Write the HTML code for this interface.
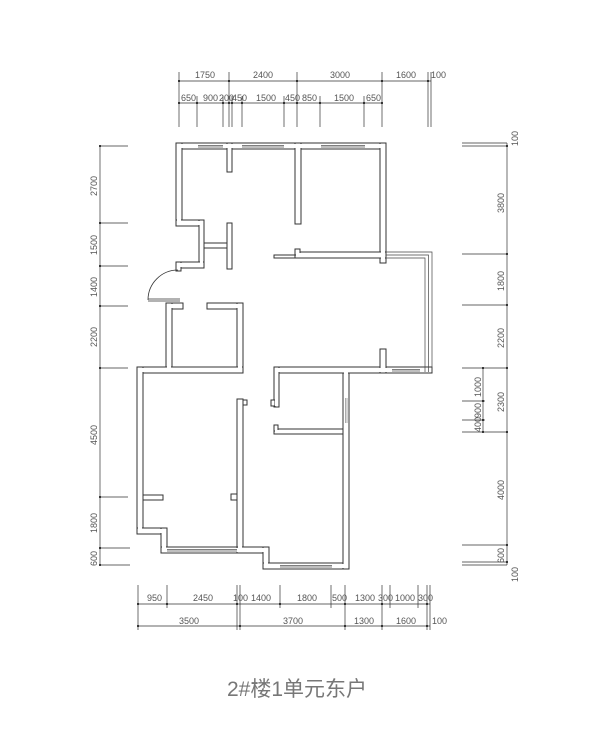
<!DOCTYPE html>
<html><head><meta charset="utf-8"><style>
body{margin:0;background:#fff;width:600px;height:750px;overflow:hidden}
svg{display:block}
text{font-family:"Liberation Sans",sans-serif;font-size:9px;fill:#555}
</style></head><body>
<svg width="600" height="750" viewBox="0 0 600 750">
<g id="walls">
<g fill="#fff" stroke="#333" stroke-width="1">
<rect x="176" y="143" width="210" height="6"/>
<rect x="176" y="143" width="6" height="83"/>
<rect x="176" y="220" width="28" height="6"/>
<rect x="199" y="220" width="5" height="48"/>
<rect x="176" y="262" width="28" height="6"/>
<rect x="176" y="262" width="5" height="9"/>
<rect x="227" y="143" width="5" height="29"/>
<rect x="227" y="223" width="5" height="46"/>
<rect x="204" y="243" width="23" height="5"/>
<rect x="295" y="143" width="6" height="81"/>
<rect x="380" y="143" width="6" height="120"/>
<rect x="295" y="252" width="91" height="6"/>
<rect x="274" y="255" width="21" height="3"/>
<rect x="295" y="249" width="5" height="6"/>
<rect x="166" y="303" width="17" height="6"/>
<rect x="166" y="303" width="6" height="70"/>
<rect x="207" y="303" width="36" height="6"/>
<rect x="237" y="303" width="6" height="70"/>
<rect x="137" y="367" width="106" height="6"/>
<rect x="137" y="367" width="6" height="167"/>
<rect x="137" y="528" width="30" height="6"/>
<rect x="161" y="528" width="6" height="25"/>
<rect x="161" y="547" width="82" height="6"/>
<rect x="143" y="495" width="20" height="5"/>
<rect x="237" y="399" width="6" height="154"/>
<rect x="243" y="400" width="4" height="5"/>
<rect x="231" y="494" width="6" height="6"/>
<rect x="237" y="547" width="32" height="6"/>
<rect x="263" y="547" width="6" height="22"/>
<rect x="263" y="563" width="86" height="6"/>
<rect x="343" y="367" width="6" height="202"/>
<rect x="274" y="367" width="158" height="6"/>
<rect x="274" y="367" width="5" height="40"/>
<rect x="271" y="400" width="4" height="6"/>
<rect x="274" y="429" width="69" height="5"/>
<rect x="274" y="425" width="4" height="6"/>
<rect x="380" y="349" width="6" height="24"/>
</g>
<g fill="#fff">
<rect x="177" y="144" width="208" height="4"/>
<rect x="177" y="144" width="4" height="81"/>
<rect x="177" y="221" width="26" height="4"/>
<rect x="200" y="221" width="3" height="46"/>
<rect x="177" y="263" width="26" height="4"/>
<rect x="228" y="144" width="3" height="27"/>
<rect x="228" y="224" width="3" height="44"/>
<rect x="296" y="144" width="4" height="79"/>
<rect x="381" y="144" width="4" height="118"/>
<rect x="296" y="253" width="89" height="4"/>
<rect x="167" y="304" width="15" height="4"/>
<rect x="167" y="304" width="4" height="68"/>
<rect x="208" y="304" width="34" height="4"/>
<rect x="238" y="304" width="4" height="68"/>
<rect x="138" y="368" width="104" height="4"/>
<rect x="138" y="368" width="4" height="165"/>
<rect x="138" y="529" width="28" height="4"/>
<rect x="162" y="529" width="4" height="23"/>
<rect x="162" y="548" width="80" height="4"/>
<rect x="238" y="400" width="4" height="152"/>
<rect x="238" y="548" width="30" height="4"/>
<rect x="264" y="548" width="4" height="20"/>
<rect x="264" y="564" width="84" height="4"/>
<rect x="344" y="368" width="4" height="200"/>
<rect x="275" y="368" width="156" height="4"/>
<rect x="275" y="368" width="3" height="38"/>
<rect x="275" y="430" width="67" height="3"/>
<rect x="381" y="350" width="4" height="22"/>
</g>
</g>
<g stroke="#555" stroke-width="0.7" fill="none">
<path d="M198 145.5H223M198 147H223M242 145.5H284M242 147H284M321 145.5H365M321 147H365"/>
<path d="M167 549.5H237M167 551H237M280 565.5H332M280 567H332M392 369.5H420M392 371H420"/>
<path d="M345.5 398V423M347 398V423" stroke="#888"/>
<path d="M386 252H432V372M386 255H428.5V372M386 258H425V372" stroke="#444"/>
</g>
<g stroke="#333" fill="none" stroke-width="0.8">
<path d="M178 270A30 30 0 0 0 148 300"/>
<path d="M148 299H180M148 301H180"/>
</g>
<g stroke="#333" stroke-width="0.7" fill="none">
<path d="M179 81H431M179 103H382"/>
<path d="M179 72V127M229 72V127M297 72V127M382 72V127M428 72V127M431 72V127"/>
<path d="M197 96V127M223 96V127M232 96V127M242 96V127M284 96V127M320 96V127M364 96V127"/>
<path d="M138 604H430M138 626H430"/>
<path d="M138 585V630M167 585V608M237 585V630M240 585V630M280 585V608M331 585V608M345 585V630M382 585V630M390 585V608M418 585V608M427 585V630M430 585V630"/>
<path d="M100 146V565"/>
<path d="M100 146H128M100 223H128M100 266H128M100 306H128M100 368H128M100 497H128M100 548H130M100 565H130"/>
<path d="M507 143V565"/>
<path d="M462 143H507M462 146H507M462 254H507M462 305H507M462 368H507M462 432H507M462 545H507M462 562H507M462 565H507"/>
<path d="M483 368V432M462 401H485M462 420H485"/>
</g>
<g fill="#000">
<circle cx="179" cy="81" r="1"/><circle cx="229" cy="81" r="1"/><circle cx="297" cy="81" r="1"/><circle cx="382" cy="81" r="1"/><circle cx="428" cy="81" r="1"/>
<circle cx="179" cy="103" r="1"/><circle cx="197" cy="103" r="1"/><circle cx="223" cy="103" r="1"/><circle cx="229" cy="103" r="1"/><circle cx="232" cy="103" r="1"/><circle cx="242" cy="103" r="1"/><circle cx="284" cy="103" r="1"/><circle cx="297" cy="103" r="1"/><circle cx="320" cy="103" r="1"/><circle cx="364" cy="103" r="1"/><circle cx="382" cy="103" r="1"/>
<circle cx="138" cy="604" r="1"/><circle cx="167" cy="604" r="1"/><circle cx="237" cy="604" r="1"/><circle cx="280" cy="604" r="1"/><circle cx="345" cy="604" r="1"/><circle cx="382" cy="604" r="1"/><circle cx="427" cy="604" r="1"/>
<circle cx="138" cy="626" r="1"/><circle cx="240" cy="626" r="1"/><circle cx="345" cy="626" r="1"/><circle cx="382" cy="626" r="1"/><circle cx="427" cy="626" r="1"/>
<circle cx="100" cy="146" r="1"/><circle cx="100" cy="223" r="1"/><circle cx="100" cy="266" r="1"/><circle cx="100" cy="306" r="1"/><circle cx="100" cy="368" r="1"/><circle cx="100" cy="497" r="1"/><circle cx="100" cy="548" r="1"/><circle cx="100" cy="565" r="1"/>
<circle cx="507" cy="146" r="1"/><circle cx="507" cy="254" r="1"/><circle cx="507" cy="305" r="1"/><circle cx="507" cy="368" r="1"/><circle cx="507" cy="432" r="1"/><circle cx="507" cy="545" r="1"/><circle cx="507" cy="562" r="1"/>
<circle cx="483" cy="368" r="1"/><circle cx="483" cy="401" r="1"/><circle cx="483" cy="420" r="1"/><circle cx="483" cy="432" r="1"/>
</g>
<g>
<text x="195" y="78">1750</text><text x="253" y="78">2400</text><text x="330" y="78">3000</text><text x="396" y="78">1600</text><text x="431" y="78">100</text>
<text x="181" y="101">650</text><text x="203" y="101">900</text><text x="219" y="101">200</text><text x="232" y="101">450</text><text x="256" y="101">1500</text><text x="285" y="101">450</text><text x="302" y="101">850</text><text x="334" y="101">1500</text><text x="366" y="101">650</text>
<text x="147" y="601">950</text><text x="193" y="601">2450</text><text x="233" y="601">100</text><text x="251" y="601">1400</text><text x="297" y="601">1800</text><text x="332" y="601">500</text><text x="355" y="601">1300</text><text x="378" y="601">300</text><text x="395" y="601">1000</text><text x="418" y="601">300</text>
<text x="179" y="624">3500</text><text x="283" y="624">3700</text><text x="354" y="624">1300</text><text x="396" y="624">1600</text><text x="432" y="624">100</text>
<g transform="rotate(-90)">
<text x="-196" y="97">2700</text><text x="-255" y="97">1500</text><text x="-297" y="97">1400</text><text x="-347" y="97">2200</text><text x="-445" y="97">4500</text><text x="-533" y="97">1800</text><text x="-566" y="97">600</text>
<text x="-213" y="504">3800</text><text x="-291" y="504">1800</text><text x="-348" y="504">2200</text><text x="-412" y="504">2300</text><text x="-500" y="504">4000</text><text x="-563" y="504">600</text>
<text x="-146" y="518">100</text><text x="-582" y="518">100</text>
<text x="-397" y="481">1000</text><text x="-418" y="481">900</text><text x="-432" y="481">400</text>
</g>
<text x="227" y="696" style="font-size:21px;fill:#777;font-family:'Liberation Sans','Noto Sans CJK SC',sans-serif">2#楼1单元东户</text>
</g>
</svg>
</body></html>
